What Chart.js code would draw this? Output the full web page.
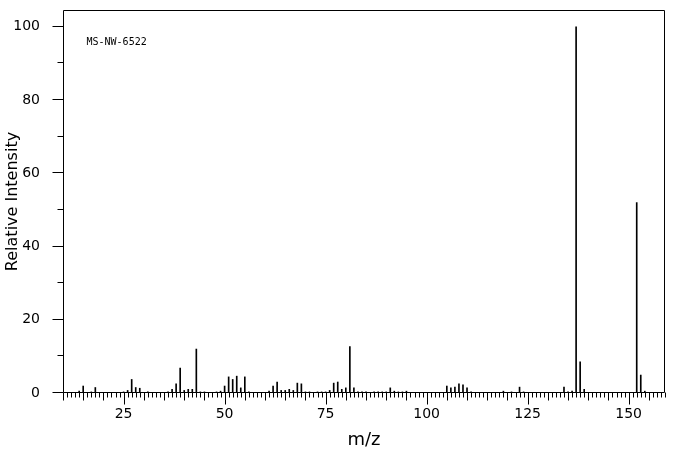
<!DOCTYPE html>
<html>
<head>
<meta charset="utf-8">
<script src="https://cdn.jsdelivr.net/npm/chart.js@4/dist/chart.umd.min.js"></script>
<style>
  html, body { margin: 0; padding: 0; background: #fff; }
  #wrap { width: 676px; height: 455px; position: relative; }
</style>
</head>
<body>
<div id="wrap"><canvas id="spectrum"></canvas></div>
<script>
// peak list (m/z and relative intensity in %)
const mz = [14, 15, 17, 18, 25, 26, 27, 28, 29, 31,
            36, 37, 38, 39, 40, 41, 42, 43, 44, 45, 48, 49,
            50, 51, 52, 53, 54, 55, 56, 61, 62, 63, 64, 65, 66, 67, 68, 69,
            70, 71, 73, 74, 75, 76, 77, 78, 79, 80, 81, 82, 83, 84, 85, 87,
            88, 89, 90, 91, 92, 93, 94, 95,
            105, 106, 107, 108, 109, 110, 111,
            119, 121, 123, 124,
            134, 135, 136, 137, 138, 139,
            152, 153, 154];
const intensity = [0.5, 1.9, 0.3, 1.5, 0.3, 0.7, 3.7, 1.5, 1.3, 0.3,
                   0.3, 1.0, 2.5, 6.8, 0.7, 1.0, 1.0, 12.0, 0.3, 0.3, 0.3, 0.5,
                   1.9, 4.4, 3.7, 4.6, 1.4, 4.4, 0.3, 0.5, 1.9, 3.0, 0.7, 0.7, 1.0, 0.7, 2.7, 2.5,
                   0.3, 0.3, 0.3, 0.3, 0.3, 0.7, 2.7, 3.0, 1.0, 1.4, 12.7, 1.4, 0.3, 0.3, 0.3, 0.3,
                   0.3, 0.3, 0.3, 1.4, 0.5, 0.3, 0.3, 0.5,
                   1.9, 1.4, 1.6, 2.5, 2.2, 1.4, 0.3,
                   0.5, 0.3, 1.6, 0.3,
                   1.6, 0.3, 0.5, 100, 8.5, 1.0,
                   52, 4.9, 0.5];
const xTickLabels = [25, 50, 75, 100, 125, 150];
const yTickLabels = [0, 20, 40, 60, 80, 100];
const sampleId = 'MS-NW-6522';

const fontMain = 'DejaVu Sans';

// frame, minor/major tick marks and the sample id
const framePlugin = {
  id: 'frame',
  afterDraw(chart) {
    const { ctx, chartArea: a, scales: { x, y } } = chart;
    const left = Math.round(a.left) + 0.5;
    const right = Math.round(a.right) - 0.5;
    const top = Math.round(a.top) + 0.5;
    const bottom = Math.round(a.bottom) - 0.5;
    ctx.save();
    ctx.strokeStyle = '#000';
    ctx.lineWidth = 1;
    ctx.beginPath();
    ctx.rect(left, top, right - left, bottom - top);
    // x ticks below the axis
    for (let m = Math.ceil(x.min); m <= Math.floor(x.max); m++) {
      const px = Math.round(x.getPixelForValue(m)) + 0.5;
      const len = m % 25 === 0 ? 12 : (m % 5 === 0 ? 8 : 5);
      ctx.moveTo(px, bottom);
      ctx.lineTo(px, bottom + len);
    }
    // y ticks left of the axis
    for (let v = 0; v <= 100; v += 10) {
      const py = Math.round(y.getPixelForValue(v)) - 0.5;
      const len = v % 20 === 0 ? 11 : 6;
      ctx.moveTo(left - len, py);
      ctx.lineTo(left, py);
    }
    ctx.stroke();
    ctx.fillStyle = '#000';
    ctx.font = '10px "DejaVu Sans Mono"';
    ctx.textBaseline = 'alphabetic';
    ctx.fillText(sampleId, left + 23, top + 34);
    ctx.restore();
  }
};

new Chart(document.getElementById('spectrum'), {
  type: 'bar',
  data: {
    datasets: [{
      data: mz.map((m, i) => ({ x: m, y: intensity[i] })),
      backgroundColor: '#000',
      borderWidth: 0,
      barThickness: 1
    }]
  },
  options: {
    responsive: true,
    maintainAspectRatio: false,
    animation: false,
    layout: { padding: { top: 10, right: 11, left: 0, bottom: 0 } },
    plugins: { legend: { display: false }, tooltip: { enabled: false } },
    scales: {
      x: {
        type: 'linear',
        min: 10,
        max: 159,
        offset: false,
        grid: { display: false },
        border: { display: false },
        afterBuildTicks: s => { s.ticks = xTickLabels.map(v => ({ value: v })); },
        ticks: { color: '#000', padding: 5, maxRotation: 0, autoSkip: false,
                 font: { family: fontMain, size: 14 } },
        title: { display: true, text: 'm/z', color: '#000',
                 font: { family: fontMain, size: 18 }, padding: { top: 4, bottom: 4 } },
        afterFit: s => { s.height = 62; s.paddingLeft = 0; s.paddingRight = 0; }
      },
      y: {
        min: 0,
        max: 104.6,
        grid: { display: false },
        border: { display: false },
        afterBuildTicks: s => { s.ticks = yTickLabels.map(v => ({ value: v })); },
        ticks: { color: '#000', padding: 15, font: { family: fontMain, size: 14 } },
        title: { display: true, text: 'Relative Intensity', color: '#000',
                 font: { family: fontMain, size: 16 }, padding: { top: 3, bottom: 0 } },
        afterFit: s => { s.width = 63; s.paddingTop = 0; s.paddingBottom = 0; }
      }
    }
  },
  plugins: [framePlugin]
});
</script>
</body>
</html>
